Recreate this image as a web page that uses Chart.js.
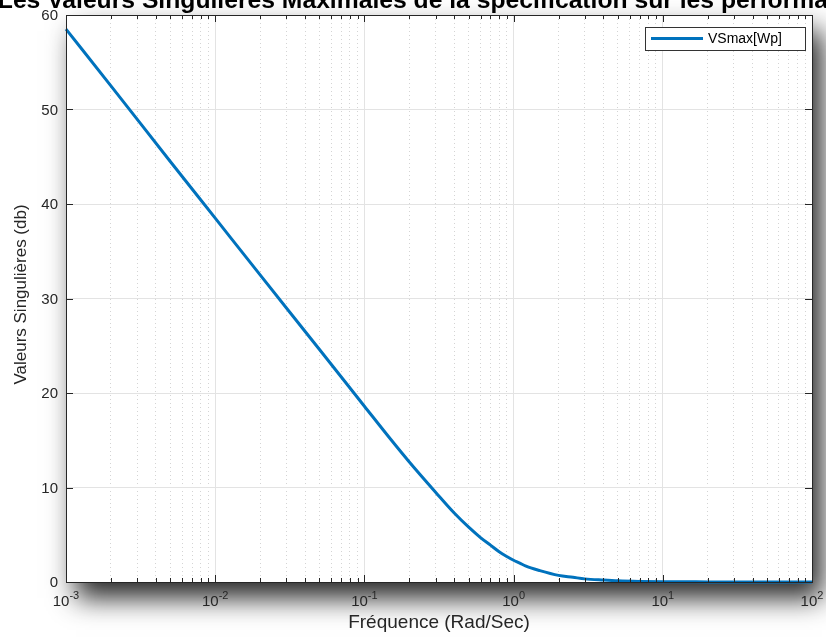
<!DOCTYPE html>
<html><head><meta charset="utf-8">
<script src="https://cdn.jsdelivr.net/npm/chart.js@4/dist/chart.umd.min.js"></script>
<style>html,body{margin:0;padding:0;background:#fff;overflow:hidden}#wrap{width:826px;height:639px;position:relative}</style>
</head><body><div id="wrap"><canvas id="c" width="826" height="639"></canvas></div>
<script>
// ---- data ----
const frequencies = [0.001, 0.002, 0.005, 0.01, 0.02, 0.05, 0.1, 0.15, 0.2, 0.3, 0.4, 0.5, 0.6, 0.7, 0.8, 0.9, 1, 1.1, 1.2, 1.5, 2, 2.5, 3, 4, 5, 7, 10, 20, 50, 100];
const vsMaxWp     = [58.5, 52.5, 44.5, 38.5, 32.5, 24.6, 18.6, 15.1, 12.7, 9.5, 7.3, 5.8, 4.7, 3.9, 3.2, 2.7, 2.3, 2.0, 1.7, 1.2, 0.7, 0.5, 0.33, 0.2, 0.12, 0.06, 0.03, 0.01, 0.0, 0.0];
const xTickValues = [0.001, 0.01, 0.1, 1, 10, 100];
const xTickExponents = ['-3', '-2', '-1', '0', '1', '2'];
const yTickValues = [0, 10, 20, 30, 40, 50, 60];
const titleText = 'Les Valeurs Singulières Maximales de la spécification sur les performances';
const xLabel = 'Fréquence (Rad/Sec)';
const yLabel = 'Valeurs Singulières (db)';
const seriesName = 'VSmax[Wp]';

const FONT = '"Liberation Sans", Arial, Helvetica, sans-serif';
const AXIS = '#262626';
const LINE = '#0072BD';

function isMajor(v){ const l = Math.log10(v); return Math.abs(l - Math.round(l)) < 1e-9; }

const decor = {
  id: 'decor',
  beforeDraw(chart){
    const {ctx, chartArea: a} = chart;
    ctx.save();
    ctx.fillStyle = '#fff';
    ctx.fillRect(0, 0, chart.width, chart.height);
    ctx.shadowColor = 'rgba(0,0,0,0.85)';
    ctx.shadowBlur = 26;
    ctx.shadowOffsetX = 10;
    ctx.shadowOffsetY = 16;
    ctx.fillRect(a.left, a.top, a.right - a.left, a.bottom - a.top);
    ctx.restore();
  },
  afterDatasetsDraw(chart){
    const {ctx, chartArea: a, scales: {x, y}} = chart;
    ctx.save();
    ctx.strokeStyle = AXIS; ctx.lineWidth = 1;
    ctx.beginPath();
    x.ticks.forEach(t => {
      const px = Math.round(x.getPixelForValue(t.value)) + 0.5;
      const len = isMajor(t.value) ? 7 : 4;
      ctx.moveTo(px, a.bottom); ctx.lineTo(px, a.bottom - len);
      ctx.moveTo(px, a.top); ctx.lineTo(px, a.top + len);
    });
    y.ticks.forEach(t => {
      const py = Math.round(y.getPixelForValue(t.value)) + 0.5;
      ctx.moveTo(a.left, py); ctx.lineTo(a.left + 7, py);
      ctx.moveTo(a.right, py); ctx.lineTo(a.right - 7, py);
    });
    ctx.stroke();
    ctx.strokeRect(Math.round(a.left) + 0.5, Math.round(a.top) + 0.5, Math.round(a.right - a.left), Math.round(a.bottom - a.top));
    // legend
    const lx = 645, ly = 27, lw = 160, lh = 23;
    ctx.fillStyle = '#fff';
    ctx.fillRect(lx, ly, lw, lh);
    ctx.strokeStyle = '#333';
    ctx.strokeRect(lx + 0.5, ly + 0.5, lw, lh);
    ctx.strokeStyle = LINE; ctx.lineWidth = 3;
    ctx.beginPath(); ctx.moveTo(lx + 6, ly + 11.5); ctx.lineTo(lx + 58, ly + 11.5); ctx.stroke();
    ctx.fillStyle = '#000';
    ctx.font = '14px ' + FONT;
    ctx.textAlign = 'left'; ctx.textBaseline = 'middle';
    ctx.fillText(seriesName, lx + 63, ly + 12);
    ctx.restore();
  },
  afterDraw(chart){
    const {ctx, chartArea: a, scales: {x, y}} = chart;
    ctx.save();
    ctx.fillStyle = AXIS;
    // y tick labels
    ctx.font = '15px ' + FONT;
    ctx.textAlign = 'right'; ctx.textBaseline = 'middle';
    yTickValues.forEach(v => ctx.fillText(String(v), a.left - 8, y.getPixelForValue(v) + 1));
    // x tick labels with exponents
    ctx.textBaseline = 'alphabetic';
    xTickValues.forEach((v, i) => {
      const px = x.getPixelForValue(v);
      ctx.font = '15px ' + FONT;
      const wb = ctx.measureText('10').width;
      ctx.font = '11px ' + FONT;
      const we = ctx.measureText(xTickExponents[i]).width;
      const start = px - (wb + we) / 2;
      ctx.textAlign = 'left';
      ctx.font = '15px ' + FONT;
      ctx.fillText('10', start, 606);
      ctx.font = '11px ' + FONT;
      ctx.fillText(xTickExponents[i], start + wb, 599);
    });
    // axis titles
    ctx.textAlign = 'center';
    ctx.font = '19px ' + FONT;
    ctx.fillText(xLabel, (a.left + a.right) / 2, 628);
    ctx.save();
    ctx.font = '17px ' + FONT;
    ctx.translate(21, (a.top + a.bottom) / 2 - 4);
    ctx.rotate(-Math.PI / 2);
    ctx.textBaseline = 'middle';
    ctx.fillText(yLabel, 0, 0);
    ctx.restore();
    // title (clipped at top as in reference)
    ctx.fillStyle = '#000';
    ctx.font = 'bold 24.7px ' + FONT;
    ctx.textAlign = 'center'; ctx.textBaseline = 'alphabetic';
    ctx.fillText(titleText, (a.left + a.right) / 2 + 2, 8);
    ctx.restore();
  }
};

new Chart(document.getElementById('c'), {
  type: 'line',
  data: {
    datasets: [{
      label: seriesName,
      data: frequencies.map((f, i) => ({x: f, y: vsMaxWp[i]})),
      borderColor: LINE,
      borderWidth: 3,
      pointRadius: 0,
      fill: false,
      cubicInterpolationMode: 'monotone',
      clip: 6
    }]
  },
  options: {
    responsive: false,
    animation: false,
    devicePixelRatio: 1,
    layout: {padding: {left: 66, top: 15, right: 14, bottom: 57}},
    plugins: {legend: {display: false}, tooltip: {enabled: false}},
    scales: {
      x: {
        type: 'logarithmic', min: 0.001, max: 100,
        afterBuildTicks(scale){
          const t = [];
          for (let i = 0; i < xTickValues.length - 1; i++) {
            for (let m = 1; m <= 9; m++) t.push({value: m * xTickValues[i]});
          }
          t.push({value: xTickValues[xTickValues.length - 1]});
          scale.ticks = t;
        },
        ticks: {display: false},
        grid: {
          drawTicks: false,
          color: c => (c.tick && isMajor(c.tick.value)) ? '#e3e3e3' : '#d4d4d4',
          lineWidth: 1
        },
        border: {display: false, dash: c => (c.tick && !isMajor(c.tick.value)) ? [1, 3] : []}
      },
      y: {
        type: 'linear', min: 0, max: 60,
        afterBuildTicks(scale){ scale.ticks = yTickValues.map(v => ({value: v})); },
        ticks: {display: false},
        grid: {drawTicks: false, color: '#e3e3e3', lineWidth: 1},
        border: {display: false}
      }
    }
  },
  plugins: [decor]
});
</script>
</body></html>
